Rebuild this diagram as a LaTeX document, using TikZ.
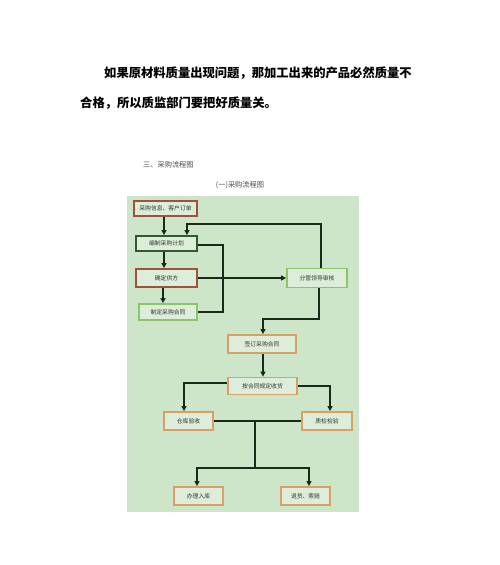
\documentclass[tikz,border=0pt]{standalone}
\usepackage{fontspec}
\newfontfamily\cjk{Noto Sans CJK SC}
\usetikzlibrary{arrows.meta}
\definecolor{bggreen}{HTML}{CDE6C9}
\definecolor{redb}{HTML}{A0503C}
\definecolor{dkgreen}{HTML}{2F5A2F}
\definecolor{ltgreen}{HTML}{8CC46A}
\definecolor{orng}{HTML}{D9A066}
\definecolor{linec}{HTML}{1A2A1A}
\tikzset{
  box/.style={draw, line width=1.8pt, fill=bggreen!70!white, inner sep=0pt, font=\cjk\fontsize{5.8}{6}\selectfont, text=black!80},
  redbox/.style={box, draw=redb},
  dkbox/.style={box, draw=dkgreen},
  ltbox/.style={box, draw=ltgreen},
  orbox/.style={box, draw=orng},
  conn/.style={draw=linec, line width=2pt},
  arr/.style={conn, -{Triangle[length=5pt,width=5pt]}},
}
\begin{document}
\begin{tikzpicture}[x=1pt,y=-1pt]
\useasboundingbox (0,0) rectangle (500,565);
\fill[white] (0,0) rectangle (500,565);
% paragraph
\node[anchor=west, inner sep=0pt, font=\cjk\bfseries\fontsize{12.3}{14}\selectfont] (p1) at (104,73) {如果原材料质量出现问题，那加工出来的产品必然质量不};
\node[anchor=west, inner sep=0pt, font=\cjk\bfseries\fontsize{12.3}{14}\selectfont] (p2) at (80,103) {合格，所以质监部门要把好质量关。};
% headings
\node[anchor=west, inner sep=0pt, font=\cjk\fontsize{7.2}{8}\selectfont, text=black!70] (h1) at (143,165) {三、采购流程图};
\node[anchor=center, inner sep=0pt, font=\cjk\fontsize{7.2}{8}\selectfont, text=black!70] (h2) at (240,185) {(一)采购流程图};
% background
\fill[bggreen] (127,196) rectangle (359,512);
% boxes
\node[redbox, minimum width=63pt, minimum height=15pt] (b1) at (165.5,208.5) {采购信息、客户订单};
\node[dkbox, minimum width=61pt, minimum height=15pt] (b2) at (166.5,243.5) {编制采购计划};
\node[redbox, minimum width=61pt, minimum height=18pt] (b3) at (166.5,278) {确定供方};
\node[ltbox, minimum width=58pt, minimum height=16pt] (b4) at (168,312) {制定采购合同};
\node[ltbox, minimum width=60pt, minimum height=19pt] (b5) at (317,278) {分管领导审核};
\node[orbox, minimum width=68pt, minimum height=18pt] (b6) at (262,344) {签订采购合同};
\node[orbox, minimum width=69pt, minimum height=17pt] (b7) at (262.5,386) {按合同规定收货};
\node[orbox, minimum width=49pt, minimum height=18pt] (b8) at (188.5,421) {仓库验收};
\node[orbox, minimum width=50pt, minimum height=18pt] (b9) at (327,421) {质检检验};
\node[orbox, minimum width=49pt, minimum height=18pt] (b10) at (198.5,496) {办理入库};
\node[orbox, minimum width=49pt, minimum height=18pt] (b11) at (305.5,496) {退货、索赔};
% connectors
\draw[arr] ([xshift=-1.5pt]b1.south) -- ([xshift=-2.5pt]b2.north);
\draw[arr] ([xshift=-2.5pt]b2.south) -- ([xshift=-2.5pt]b3.north);
\draw[arr] ([xshift=-3.5pt]b3.south) -- ([xshift=-5pt]b4.north);
\draw[conn] (b4.east) -- ++(25,0) |- ([yshift=-1.5pt]b2.east);
\draw[arr] (b3.east) -- (b5.west);
\draw[arr] ([xshift=4pt]b5.north) -- ++(0,-44) -| ([xshift=20.5pt]b2.north);
\draw[arr] ([xshift=2pt]b5.south) -- ++(0,31) -| ([xshift=1pt]b6.north);
\draw[arr] ([xshift=1pt]b6.south) -- ([xshift=0.5pt]b7.north);
\draw[arr] ([yshift=3pt]b7.west) -| ([xshift=-4.5pt]b8.north);
\draw[arr] (b7.east) -| ([xshift=3pt]b9.north);
\draw[conn] (b8.east) -- (b9.west);
\coordinate (j1) at (255,421);
\coordinate (j2) at (255,468);
\draw[conn] (j1) -- (j2);
\draw[arr] (j2) -| ([xshift=-1.5pt]b10.north);
\draw[arr] (j2) -| ([xshift=3.5pt]b11.north);
\end{tikzpicture}
\end{document}
